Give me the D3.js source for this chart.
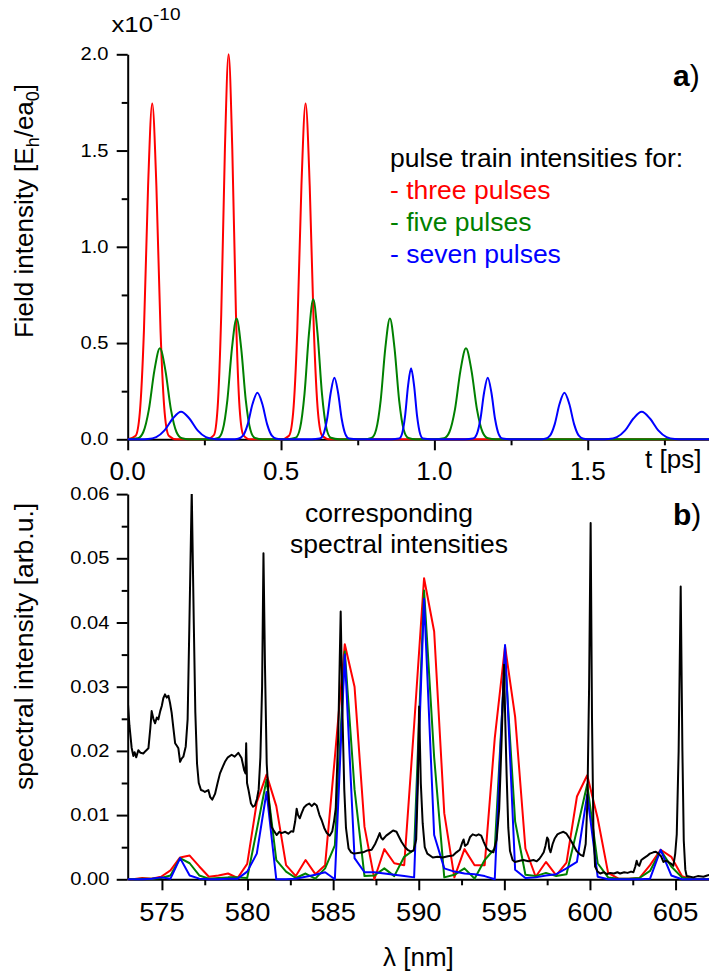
<!DOCTYPE html>
<html><head><meta charset="utf-8">
<script src="https://cdn.jsdelivr.net/npm/d3@7"></script>
<style>
body{margin:0;background:#fff;}
svg{display:block;font-family:"Liberation Sans",Arial,sans-serif;}
</style>
</head><body>
<svg id="chart" width="709" height="975"></svg>
<script>
// ---------- DATA (panel a: pulse-train field intensities, units 1e-10) ----------
const threePulses = [[0,0],[0.026,0.019],[0.0395,0.139],[0.053,0.567],[0.0665,1.317],[0.080,1.745],[0.0935,1.317],[0.107,0.567],[0.1205,0.139],[0.134,0.019],[0.16,0],
 [0.255,0],[0.281,0.022],[0.293,0.159],[0.305,0.65],[0.317,1.51],[0.329,2.0],[0.341,1.51],[0.353,0.65],[0.365,0.159],[0.377,0.022],[0.40,0],
 [0.50,0],[0.526,0.019],[0.5395,0.139],[0.553,0.567],[0.5665,1.317],[0.580,1.745],[0.5935,1.317],[0.607,0.567],[0.6205,0.139],[0.634,0.019],[0.66,0],[1.9,0]];
const fivePulses = [[0,0],[0.033,0.005],[0.051,0.038],[0.069,0.154],[0.087,0.357],[0.105,0.473],[0.123,0.357],[0.141,0.154],[0.159,0.038],[0.177,0.005],[0.2,0],
 [0.27,0],[0.295,0.007],[0.310,0.050],[0.325,0.204],[0.340,0.474],[0.355,0.628],[0.370,0.474],[0.385,0.204],[0.400,0.050],[0.415,0.007],[0.44,0],
 [0.52,0],[0.548,0.008],[0.562,0.058],[0.5765,0.236],[0.591,0.549],[0.605,0.727],[0.619,0.549],[0.6335,0.236],[0.648,0.058],[0.662,0.008],[0.69,0],
 [0.77,0],[0.795,0.007],[0.810,0.050],[0.825,0.204],[0.840,0.474],[0.855,0.628],[0.870,0.474],[0.885,0.204],[0.900,0.050],[0.915,0.007],[0.94,0],
 [1.0,0],[1.031,0.005],[1.049,0.038],[1.067,0.154],[1.085,0.357],[1.103,0.473],[1.121,0.357],[1.139,0.154],[1.157,0.038],[1.175,0.005],[1.2,0],[1.9,0]];
const sevenPulses = [[0,0],[0.04,0],[0.066,0.0016],[0.093,0.0114],[0.120,0.0465],[0.147,0.108],[0.174,0.143],[0.201,0.108],[0.228,0.0465],[0.255,0.0114],[0.282,0.0016],[0.30,0],
 [0.34,0],[0.360,0.0027],[0.376,0.019],[0.3915,0.079],[0.407,0.183],[0.423,0.242],[0.439,0.183],[0.4545,0.079],[0.470,0.019],[0.486,0.0027],[0.51,0],
 [0.60,0],[0.626,0.0036],[0.638,0.0255],[0.650,0.104],[0.662,0.242],[0.674,0.320],[0.686,0.242],[0.698,0.104],[0.710,0.0255],[0.722,0.0036],[0.75,0],
 [0.86,0],[0.885,0.004],[0.8946,0.029],[0.9044,0.120],[0.9142,0.279],[0.924,0.369],[0.9338,0.279],[0.9436,0.120],[0.9534,0.029],[0.963,0.004],[0.99,0],
 [1.10,0],[1.126,0.0036],[1.138,0.0255],[1.150,0.104],[1.162,0.242],[1.174,0.320],[1.186,0.242],[1.198,0.104],[1.210,0.0255],[1.222,0.0036],[1.25,0],
 [1.34,0],[1.361,0.0027],[1.377,0.019],[1.3925,0.079],[1.408,0.183],[1.424,0.242],[1.440,0.183],[1.4555,0.079],[1.471,0.019],[1.487,0.0027],[1.51,0],
 [1.54,0],[1.568,0.0016],[1.595,0.0114],[1.622,0.0465],[1.649,0.108],[1.676,0.143],[1.703,0.108],[1.730,0.0465],[1.757,0.0114],[1.784,0.0016],[1.81,0],[1.9,0]];

// ---------- DATA (panel b: spectral intensities) ----------
const spectralGrid = [572.75,573.30,573.85,574.40,574.95,575.50,576.06,576.62,577.18,577.74,578.30,578.86,579.42,579.98,580.54,581.11,581.68,582.25,582.82,583.39,583.96,584.53,585.10,585.68,586.25,586.83,587.41,587.99,588.57,589.15,589.73,590.31,590.90,591.49,592.08,592.67,593.26,593.85,594.44,595.04,595.63,596.23,596.83,597.43,598.03,598.63,599.24,599.84,600.45,601.06,601.67,602.28,602.89,603.51,604.13,604.75,605.37,605.99,606.61,607.24];
const spectrumThree = [0,0,0.0002,0.0001,0.0004,0.0014,0.0034,0.0037,0.0020,0.0004,0.0006,0.0009,0.0002,0.0024,0.0120,0.0163,0.0114,0.0022,0.0005,0.0030,0.0008,0.0022,0.0190,0.0366,0.0300,0.0082,0.0000,0.0047,0.0025,0.0022,0.0240,0.0469,0.0386,0.0103,0.0003,0.0047,0.0022,0.0022,0.0220,0.0363,0.0253,0.0048,0.0004,0.0027,0.0006,0.0026,0.0129,0.0162,0.0095,0.0010,0.0001,0.0001,0.0002,0.0022,0.0046,0.0035,0.0005,0,0,0];
const spectrumFive = [0,0,0.0001,0.0001,0.0002,0.0006,0.0033,0.0025,0.0006,0.0001,0.0002,0.0003,0.0003,0.0002,0.0077,0.0155,0.0030,0.0012,0.0002,0.0009,0.0001,0.0017,0.0053,0.0355,0.0140,0.0005,0.0006,0.0017,0.0005,0.0035,0.0046,0.0450,0.0190,0.0003,0.0007,0.0017,0.0001,0.0030,0.0048,0.0345,0.0090,0.0007,0.0005,0.0010,0.0005,0.0008,0.0077,0.0148,0.0025,0.0003,0.0001,0.0001,0.0002,0.0013,0.0045,0.0020,0.0003,0,0,0];
const spectrumSeven = [0,0,0,0.0001,0.0003,0.0001,0.0033,0.0006,0.0001,0,0,0.0001,0.0001,0.0012,0.0040,0.0136,0,0,0.0001,0.0004,0.0007,0.0011,0,0.0350,0.0033,0.0011,0.0011,0.0009,0.0007,0.0005,0.0003,0.0437,0.0069,0.0017,0.0012,0.0009,0.0008,0.0005,0,0.0365,0.0015,0.0002,0.0003,0.0006,0.0008,0.0017,0.0027,0.0132,0.0004,0,0,0,0,0.0001,0.0046,0.0006,0,0,0,0];
const measuredSpectrum = [[572.95,0.030],[573.00,0.0280],[573.10,0.0240],[573.23,0.0205],[573.33,0.0192],[573.40,0.0198],[573.50,0.0190],[573.62,0.0201],[573.75,0.0197],[573.91,0.0196],[574.05,0.0200],[574.21,0.0204],[574.32,0.0235],[574.40,0.0262],[574.50,0.0250],[574.60,0.0243],[574.70,0.0252],[574.79,0.0249],[574.90,0.0262],[574.99,0.0270],[575.08,0.0282],[575.18,0.0288],[575.28,0.0283],[575.38,0.0286],[575.47,0.0275],[575.57,0.0259],[575.67,0.0235],[575.77,0.0212],[575.87,0.0208],[575.96,0.0204],[576.06,0.0183],[576.15,0.0188],[576.25,0.0191],[576.39,0.0207],[576.50,0.0249],[576.60,0.0393],[576.74,0.0605],[576.86,0.0400],[576.95,0.0260],[577.05,0.0180],[577.15,0.0150],[577.28,0.0139],[577.40,0.0138],[577.51,0.0136],[577.71,0.0139],[577.82,0.0128],[577.94,0.0124],[578.10,0.0133],[578.25,0.0150],[578.39,0.0165],[578.55,0.0175],[578.68,0.0183],[578.85,0.0190],[579.07,0.0194],[579.25,0.0191],[579.46,0.0197],[579.65,0.0189],[579.80,0.0170],[579.88,0.0165],[579.92,0.0212],[579.97,0.0150],[580.05,0.0140],[580.20,0.0118],[580.32,0.0113],[580.43,0.0115],[580.55,0.0125],[580.65,0.0140],[580.75,0.0190],[580.85,0.0300],[580.93,0.0508],[581.02,0.0330],[581.12,0.0180],[581.25,0.0120],[581.40,0.0082],[581.55,0.0075],[581.70,0.0069],[581.85,0.0074],[581.99,0.0072],[582.20,0.0074],[582.38,0.0071],[582.55,0.0075],[582.67,0.0074],[582.78,0.0090],[582.87,0.0110],[582.95,0.0100],[583.05,0.0095],[583.16,0.0103],[583.30,0.0112],[583.46,0.0116],[583.60,0.0118],[583.75,0.0114],[583.90,0.0118],[584.04,0.0115],[584.20,0.0100],[584.33,0.0092],[584.48,0.0080],[584.63,0.0072],[584.80,0.0068],[584.95,0.0075],[585.05,0.0090],[585.15,0.0110],[585.30,0.0227],[585.44,0.0417],[585.55,0.0250],[585.65,0.0140],[585.75,0.0080],[585.90,0.0048],[586.05,0.0042],[586.20,0.0040],[586.45,0.0041],[586.75,0.0042],[587.00,0.0045],[587.25,0.0046],[587.45,0.0055],[587.60,0.0064],[587.72,0.0072],[587.80,0.0065],[587.90,0.0062],[588.10,0.0068],[588.30,0.0072],[588.50,0.0076],[588.70,0.0074],[588.85,0.0066],[589.00,0.0058],[589.20,0.0050],[589.35,0.0046],[589.55,0.0043],[589.70,0.0045],[589.85,0.0062],[589.95,0.0150],[590.02,0.0269],[590.12,0.0150],[590.23,0.0087],[590.35,0.0050],[590.50,0.0040],[590.82,0.0034],[591.10,0.0035],[591.40,0.0034],[591.70,0.0036],[592.00,0.0037],[592.20,0.0042],[592.40,0.0046],[592.55,0.0058],[592.62,0.0062],[592.70,0.0052],[592.85,0.0055],[593.00,0.0066],[593.15,0.0070],[593.35,0.0068],[593.50,0.0070],[593.65,0.0068],[593.80,0.0058],[593.97,0.0048],[594.15,0.0044],[594.36,0.0042],[594.55,0.0062],[594.70,0.0110],[594.84,0.0217],[594.98,0.0334],[595.06,0.0240],[595.13,0.0165],[595.23,0.0080],[595.33,0.0044],[595.48,0.0030],[595.62,0.0027],[595.90,0.0029],[596.11,0.0030],[596.40,0.0028],[596.70,0.0030],[596.89,0.0028],[597.05,0.0032],[597.18,0.0037],[597.30,0.0042],[597.40,0.0052],[597.50,0.0065],[597.57,0.0062],[597.62,0.0048],[597.70,0.0042],[597.82,0.0055],[597.95,0.0064],[598.10,0.0070],[598.24,0.0072],[598.45,0.0074],[598.63,0.0071],[598.80,0.0064],[598.92,0.0059],[599.10,0.0050],[599.22,0.0044],[599.45,0.0038],[599.61,0.0036],[599.75,0.0055],[599.85,0.0120],[599.95,0.0300],[600.04,0.0555],[600.12,0.0250],[600.20,0.0080],[600.30,0.0020],[600.45,0.0012],[600.60,0.0009],[600.80,0.0011],[601.00,0.0008],[601.18,0.0010],[601.40,0.0009],[601.60,0.0011],[601.76,0.0009],[602.00,0.0011],[602.20,0.0010],[602.40,0.0012],[602.54,0.0011],[602.65,0.0020],[602.73,0.0029],[602.80,0.0023],[602.88,0.0021],[603.00,0.0030],[603.15,0.0033],[603.32,0.0036],[603.50,0.0040],[603.70,0.0042],[603.85,0.0043],[604.00,0.0040],[604.15,0.0036],[604.29,0.0027],[604.45,0.0029],[604.58,0.0027],[604.75,0.0024],[604.87,0.0021],[604.98,0.0040],[605.07,0.0070],[605.18,0.0200],[605.30,0.0456],[605.40,0.0200],[605.48,0.0060],[605.57,0.0015],[605.65,0.0005],[605.85,0.0004],[606.04,0.0003],[606.30,0.0005],[606.63,0.0004],[606.85,0.0006],[607.00,0.0007]];

// ---------- TICKS ----------
const topYTicks = [0, 0.5, 1.0, 1.5, 2.0];
const topYMinor = [0.25, 0.75, 1.25, 1.75];
const topXTicks = [0, 0.5, 1.0, 1.5];
const topXMinor = [0.25, 0.75, 1.25, 1.75];
const botYTicks = [0, 0.01, 0.02, 0.03, 0.04, 0.05, 0.06];
const botYMinor = [0.005, 0.015, 0.025, 0.035, 0.045, 0.055];
const botXTicks = [575, 580, 585, 590, 595, 600, 605];
const botXMinor = [577.5, 582.5, 587.5, 592.5, 597.5, 602.5];

const RED = "#ff0000", GREEN = "#008000", BLUE = "#0000ff";

const svg = d3.select("#chart");

// scales
const xTop = d3.scaleLinear().domain([0, 1.9]).range([127.7, 710.4]);
const yTop = d3.scaleLinear().domain([0, 2.0]).range([439.3, 54.3]);
const xBot = d3.scaleLinear().domain([573, 607]).range([127.7, 709.8]);
const yBot = d3.scaleLinear().domain([0, 0.06]).range([879.3, 494.1]);

function styleAxis(g) {
  g.select(".domain").attr("stroke", "#000").attr("stroke-width", 2);
  g.selectAll(".tick line").attr("stroke", "#000").attr("stroke-width", 2);
  g.selectAll(".tick text").remove();
}
function drawAxes(x, y, yT, yM, xT, xM, y0, x0) {
  const gy = svg.append("g").attr("transform", `translate(${x0},0)`)
    .call(d3.axisLeft(y).tickValues(yT).tickSize(11).tickSizeOuter(0).tickFormat(""));
  styleAxis(gy);
  const gym = svg.append("g").attr("transform", `translate(${x0},0)`)
    .call(d3.axisLeft(y).tickValues(yM).tickSize(6).tickSizeOuter(0).tickFormat(""));
  styleAxis(gym); gym.select(".domain").remove();
  const gx = svg.append("g").attr("transform", `translate(0,${y0})`)
    .call(d3.axisBottom(x).tickValues(xT).tickSize(11).tickSizeOuter(0).tickFormat(""));
  styleAxis(gx);
  const gxm = svg.append("g").attr("transform", `translate(0,${y0})`)
    .call(d3.axisBottom(x).tickValues(xM).tickSize(6).tickSizeOuter(0).tickFormat(""));
  styleAxis(gxm); gxm.select(".domain").remove();
}
function label(x, y, str, size, anchor, sx, opts) {
  const t = svg.append("text")
    .attr("transform", `translate(${x},${y}) scale(${sx||1},1)`)
    .attr("text-anchor", anchor || "start")
    .style("font-size", size + "px")
    .attr("fill", (opts && opts.fill) || "#000")
    .text(str);
  if (opts && opts.bold) t.style("font-weight", "bold");
  return t;
}

// ---------- PANEL A ----------
drawAxes(xTop, yTop, topYTicks, topYMinor, topXTicks, topXMinor, 439.3, 127.7);

const lineTop = d3.line().x(d => xTop(d[0])).y(d => yTop(d[1])).curve(d3.curveMonotoneX);
[[threePulses, RED], [fivePulses, GREEN], [sevenPulses, BLUE]].forEach(([data, col]) => {
  svg.append("path").datum(data).attr("d", lineTop)
    .attr("fill", "none").attr("stroke", col).attr("stroke-width", 2).attr("stroke-linejoin", "round");
});

topYTicks.forEach(v => label(108.5, yTop(v) + 6, d3.format(".1f")(v), 18, "end", 1.12));
topXTicks.forEach(v => label(xTop(v), 480, d3.format(".1f")(v), 26, "middle", 1.0));

// x10^-10
const ex = label(111.5, 32.3, "x10", 23, "start", 1.12);
ex.append("tspan").attr("dy", -12).style("font-size", "17px").text("-10");

label(645, 468, "t [ps]", 26, "start", 1);

// axis title a
const ta = svg.append("text").attr("transform", "translate(33,211) rotate(-90)")
  .attr("text-anchor", "middle").style("font-size", "26px");
ta.append("tspan").text("Field intensity [E");
ta.append("tspan").attr("dy", 6).style("font-size", "18px").text("h");
ta.append("tspan").attr("dy", -6).text("/ea");
ta.append("tspan").attr("dy", 6).style("font-size", "18px").text("0");
ta.append("tspan").attr("dy", -6).text("]");

// a)
const la = label(673, 86, "a", 30, "start", 1, {bold: true});
la.append("tspan").style("font-weight", "normal").text(")");

// legend
label(390, 167, "pulse train intensities for:", 26.5, "start", 1);
label(390, 199, "- three pulses", 26.5, "start", 1, {fill: RED});
label(390, 231, "- five pulses", 26.5, "start", 1, {fill: GREEN});
label(390, 263, "- seven pulses", 26.5, "start", 1, {fill: BLUE});

// ---------- PANEL B ----------
drawAxes(xBot, yBot, botYTicks, botYMinor, botXTicks, botXMinor, 879.3, 127.7);

svg.append("defs").append("clipPath").attr("id", "clipB")
  .append("rect").attr("x", 127.7).attr("y", 494.1).attr("width", 590).attr("height", 388);

const lineBot = d3.line().x(d => xBot(d[0])).y(d => yBot(d[1]));
const gB = svg.append("g").attr("clip-path", "url(#clipB)");
[[spectrumThree, RED], [spectrumFive, GREEN], [spectrumSeven, BLUE]].forEach(([vals, col]) => {
  const pts = spectralGrid.map((l, i) => [l, vals[i]]);
  gB.append("path").datum(pts).attr("d", lineBot)
    .attr("fill", "none").attr("stroke", col).attr("stroke-width", 2).attr("stroke-linejoin", "round");
});
gB.append("path").datum(measuredSpectrum).attr("d", lineBot)
  .attr("fill", "none").attr("stroke", "#000").attr("stroke-width", 2).attr("stroke-linejoin", "round");

botYTicks.forEach(v => label(109.5, yBot(v) + 6, d3.format(".2f")(v), 18, "end", 1.12));
botXTicks.forEach(v => label(xBot(v), 921, String(v), 26, "middle", 1.05));

// axis title b
svg.append("text").attr("transform", "translate(33,646.5) rotate(-90)")
  .attr("text-anchor", "middle").style("font-size", "26.5px").text("spectral intensity [arb.u.]");

label(383, 966, "λ [nm]", 26, "start", 1);

const lb = label(673, 525, "b", 30, "start", 1, {bold: true});
lb.append("tspan").style("font-weight", "normal").text(")");

label(305, 522, "corresponding", 26.5, "start", 1);
label(290, 553, "spectral intensities", 26.5, "start", 1);
</script>
</body></html>
